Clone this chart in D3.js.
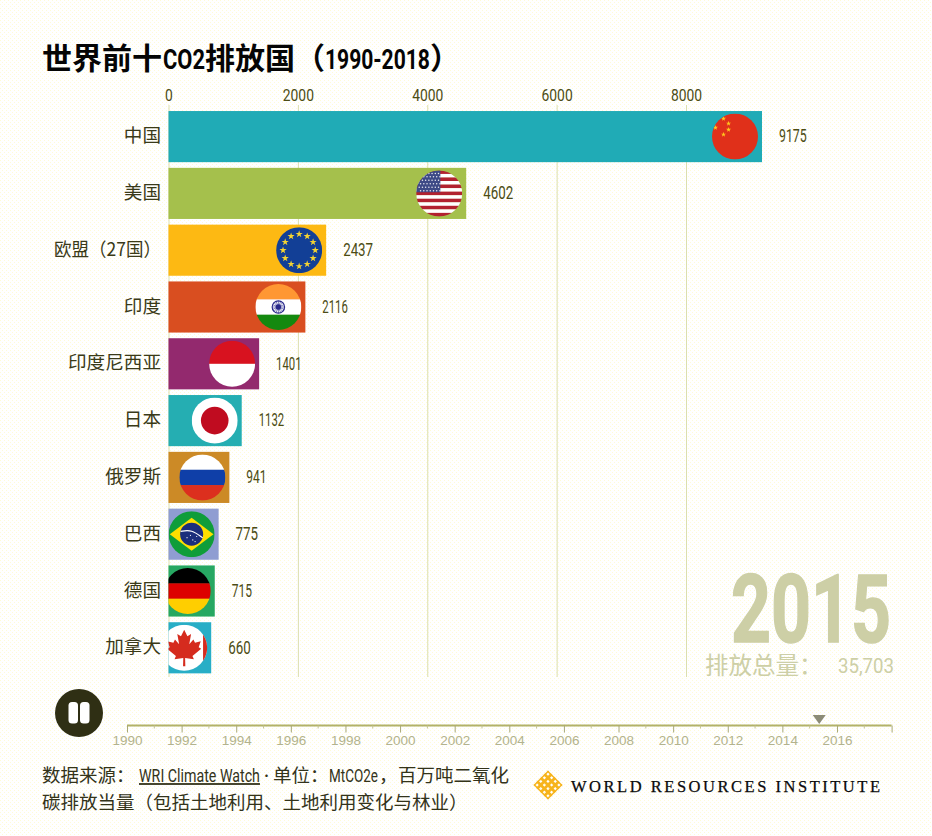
<!DOCTYPE html>
<html>
<head>
<meta charset="utf-8">
<script src="https://cdnjs.cloudflare.com/ajax/libs/d3/7.8.5/d3.min.js"></script>
<style>
  html, body { margin: 0; padding: 0; background: #fff; }
  svg { display: block; }
  text { font-family: "Noto Sans CJK SC", sans-serif; }
  text.num { font-family: Roboto, sans-serif; }
</style>
</head>
<body>
<svg id="chart" width="932" height="836"></svg>
<script>
// ---- data ----
const countries = ["中国", "美国", "欧盟（27国）", "印度", "印度尼西亚", "日本", "俄罗斯", "巴西", "德国", "加拿大"];
const emissions = [9175, 4602, 2437, 2116, 1401, 1132, 941, 775, 715, 660];
const barColors = ["#20abb6", "#a5c04c", "#fdb913", "#d94e20", "#93296e", "#25aeb2", "#cc8a26", "#8f9dd2", "#27a862", "#28aec6"];
const flagIds = ["cn", "us", "eu", "in", "id", "jp", "ru", "br", "de", "ca"];
const axisTicks = [0, 2000, 4000, 6000, 8000];
const timelineMajor = [1990, 1992, 1994, 1996, 1998, 2000, 2002, 2004, 2006, 2008, 2010, 2012, 2014, 2016];
const currentYear = 2015;
const currentPosition = 2015.35;
const totalLabel = "35,703";

const inkOlive = "#4c4c14";
const fadedKhaki = "#cdcfa6";

const svg = d3.select("#chart");
const defs = svg.append("defs");

// the faces in the original are condensed and none is installed, so squash the text
function squeezeTo(sel, width) {
  sel.each(function (d, i) {
    const el = d3.select(this);
    const target = typeof width === "function" ? width(d, i) : width;
    const sx = target / this.getComputedTextLength();
    const px = +el.attr("x") || 0;
    el.attr("transform", `translate(${px},0) scale(${sx},1) translate(${-px},0)`);
  });
}

// digits are about 7.5 wide at this size, the 1 is thinner
function numberWidth(v, unit = 7.5) {
  return String(v).split("").reduce((w, c) => w + (c === "1" ? unit * 0.7 : unit), 0);
}

// faint yellow dither the gif has on its background
const dither = defs.append("pattern")
  .attr("id", "dither").attr("width", 4).attr("height", 4)
  .attr("patternUnits", "userSpaceOnUse");
dither.append("rect").attr("width", 1).attr("height", 1).attr("fill", "#fffbd6");
dither.append("rect").attr("x", 2).attr("y", 2).attr("width", 1).attr("height", 1).attr("fill", "#fffbd6");
svg.append("rect").attr("width", 932).attr("height", 836).attr("fill", "url(#dither)");

const x = d3.scaleLinear().domain([0, 8000]).range([168.5, 686]);
const y = d3.scaleBand().domain(countries).range([108.2, 676.2]).paddingInner(0.1).paddingOuter(0.05);

// title, cut in pieces so the latin bits can be narrowed
const titleHan = svg.append("g").attr("font-size", 30).attr("font-weight", 700).attr("fill", "#050505");
titleHan.append("text").attr("x", 42).attr("y", 69).text("世界前十");
titleHan.append("text").attr("x", 205).attr("y", 69).text("排放国");
titleHan.append("text").attr("x", 295).attr("y", 69).text("（");
titleHan.append("text").attr("x", 430).attr("y", 69).text("）");
titleHan.append("text").attr("class", "num").attr("x", 163).attr("y", 69).attr("font-size", 28).text("CO2").call(squeezeTo, 42);
titleHan.append("text").attr("class", "num").attr("x", 325).attr("y", 69).attr("font-size", 28).text("1990-2018").call(squeezeTo, 105);

// top axis + grid
const axis = svg.append("g")
  .attr("transform", "translate(0,105)")
  .call(d3.axisTop(x).tickValues(axisTicks).tickSize(0).tickPadding(4).tickFormat(d3.format("d")));
axis.select(".domain").remove();
axis.selectAll("text").attr("class", "num").attr("font-size", 16).attr("fill", inkOlive)
  .call(squeezeTo, (d) => numberWidth(d, 7.8));
axis.selectAll(".tick").append("line")
  .attr("y1", 0).attr("y2", 572)
  .attr("stroke", "#dcdfae").attr("stroke-width", 1);

// bars
const rows = countries.map((name, i) => ({ name, value: emissions[i], color: barColors[i], flag: flagIds[i] }));
const flagR = y.bandwidth() * 0.45;

defs.append("clipPath").attr("id", "flag-circle").append("circle").attr("r", flagR);

const row = svg.selectAll("g.row").data(rows).join("g").attr("class", "row");

row.append("clipPath").attr("id", (d) => "bar-" + d.flag)
  .append("rect")
  .attr("x", x(0)).attr("y", (d) => y(d.name))
  .attr("width", (d) => x(d.value) - x(0)).attr("height", y.bandwidth());

row.append("rect")
  .attr("x", x(0)).attr("y", (d) => y(d.name))
  .attr("width", (d) => x(d.value) - x(0)).attr("height", y.bandwidth())
  .attr("fill", (d) => d.color);

row.append("text")
  .attr("x", 161).attr("y", (d) => y(d.name) + y.bandwidth() / 2)
  .attr("dy", "0.3em").attr("text-anchor", "end")
  .attr("font-size", 18.6).attr("fill", "#3a3a18")
  .text((d) => d.name)
  .filter((d) => d.flag === "eu").call(squeezeTo, 107);

row.append("text")
  .attr("class", "num")
  .attr("x", (d) => x(d.value) + 17).attr("y", (d) => y(d.name) + y.bandwidth() / 2)
  .attr("dy", "0.32em")
  .attr("font-size", 18).attr("fill", inkOlive)
  .text((d) => d.value)
  .call(squeezeTo, (d) => numberWidth(d.value));

// flags, clipped by the bar so the short ones get cut on the left
row.append("g").attr("clip-path", (d) => `url(#bar-${d.flag})`)
  .append("g")
  .attr("transform", (d) => `translate(${x(d.value) - 27},${y(d.name) + y.bandwidth() / 2})`)
  .attr("clip-path", "url(#flag-circle)")
  .each(function (d) { drawFlag(d3.select(this), d.flag, flagR); });

function stripes(g, colors, r) {
  const h = (2 * r) / colors.length;
  colors.forEach((c, i) => {
    g.append("rect").attr("x", -r).attr("y", -r + i * h).attr("width", 2 * r).attr("height", h + 0.3).attr("fill", c);
  });
}

function star(g, cx, cy, size, color) {
  g.append("path")
    .attr("d", d3.symbol(d3.symbolStar).size(size)())
    .attr("transform", `translate(${cx},${cy})`)
    .attr("fill", color);
}

function drawFlag(g, id, r) {
  if (id === "cn") {
    g.append("rect").attr("x", -r).attr("y", -r).attr("width", 2 * r).attr("height", 2 * r).attr("fill", "#e0301a");
    [[-0.5, -0.78], [-0.28, -0.57], [-0.28, -0.3], [-0.5, -0.09], [-0.85, -0.39]].forEach((p) => {
      star(g, p[0] * r, p[1] * r, 8, "#ffc81e");
    });
  } else if (id === "us") {
    stripes(g, d3.range(13).map((i) => (i % 2 ? "#ffffff" : "#b2222f")), r);
    g.append("rect").attr("x", -r).attr("y", -r).attr("width", r * 1.05).attr("height", r * 0.95).attr("fill", "#3e4a86");
    d3.range(6).forEach((row) => d3.range(7).forEach((col) => {
      g.append("circle")
        .attr("cx", -r + 3 + col * (r * 0.14) + (row % 2) * 1.4)
        .attr("cy", -r + 3 + row * (r * 0.15))
        .attr("r", 0.75).attr("fill", "#e8e8f0");
    }));
  } else if (id === "eu") {
    g.append("rect").attr("x", -r).attr("y", -r).attr("width", 2 * r).attr("height", 2 * r).attr("fill", "#123f96");
    d3.range(12).forEach((i) => {
      const a = (i / 12) * 2 * Math.PI;
      star(g, Math.sin(a) * r * 0.7, -Math.cos(a) * r * 0.7, 16, "#f5d432");
    });
  } else if (id === "in") {
    stripes(g, ["#ff9733", "#ffffff", "#14890f"], r);
    g.append("circle").attr("r", r * 0.27).attr("fill", "none").attr("stroke", "#2a2a8c").attr("stroke-width", 1.2);
    g.append("circle").attr("r", r * 0.12).attr("fill", "#2a2a8c");
    d3.range(8).forEach((i) => {
      const a = (i / 8) * Math.PI;
      g.append("line")
        .attr("x1", -Math.cos(a) * r * 0.27).attr("y1", -Math.sin(a) * r * 0.27)
        .attr("x2", Math.cos(a) * r * 0.27).attr("y2", Math.sin(a) * r * 0.27)
        .attr("stroke", "#2a2a8c").attr("stroke-width", 0.6);
    });
  } else if (id === "id") {
    stripes(g, ["#d8121f", "#ffffff"], r);
  } else if (id === "jp") {
    stripes(g, ["#ffffff"], r);
    g.append("circle").attr("r", r * 0.6).attr("fill", "#c00c20");
  } else if (id === "ru") {
    stripes(g, ["#ffffff", "#0f3fa8", "#dc2f1e"], r);
  } else if (id === "br") {
    g.append("rect").attr("x", -r).attr("y", -r).attr("width", 2 * r).attr("height", 2 * r).attr("fill", "#0f9d3a");
    g.append("path")
      .attr("d", d3.line()([[-r * 0.95, 0], [0, -r * 0.72], [r * 0.95, 0], [0, r * 0.72]]) + "Z")
      .attr("fill", "#fedf00");
    g.append("circle").attr("r", r * 0.5).attr("fill", "#1c2f7c");
    g.append("path")
      .attr("d", d3.line().curve(d3.curveBasis)([[-r * 0.48, -r * 0.12], [0, -r * 0.2], [r * 0.48, r * 0.16]]))
      .attr("fill", "none").attr("stroke", "#ffffff").attr("stroke-width", 1.2);
    [[-0.2, 0.15], [0.05, 0.25], [0.22, 0.1], [-0.05, 0.05], [0.15, 0.32]].forEach((p) => {
      g.append("circle").attr("cx", p[0] * r).attr("cy", p[1] * r).attr("r", 0.6).attr("fill", "#ffffff");
    });
  } else if (id === "de") {
    stripes(g, ["#000000", "#dd0000", "#ffce00"], r);
  } else if (id === "ca") {
    stripes(g, ["#ffffff"], r);
    g.append("rect").attr("x", r * 0.82).attr("y", -r).attr("width", r * 0.4).attr("height", 2 * r).attr("fill", "#d52b1e");
    // maple leaf, in units of the flag radius
    const leaf = [[0, -0.78], [0.14, -0.5], [0.3, -0.6], [0.22, -0.15], [0.4, -0.36], [0.47, -0.22], [0.72, -0.28],
      [0.63, -0.02], [0.74, 0.04], [0.36, 0.36], [0.42, 0.5], [0.04, 0.44], [0.05, 0.8], [-0.05, 0.8], [-0.04, 0.44],
      [-0.42, 0.5], [-0.36, 0.36], [-0.74, 0.04], [-0.63, -0.02], [-0.72, -0.28], [-0.47, -0.22], [-0.4, -0.36],
      [-0.22, -0.15], [-0.3, -0.6], [-0.14, -0.5]];
    g.append("path")
      .attr("d", d3.line()(leaf.map((p) => [p[0] * r, p[1] * r])) + "Z")
      .attr("fill", "#d52b1e");
  }
}

// big year + total
svg.append("text")
  .attr("class", "num")
  .attr("x", 731).attr("y", 642)
  .attr("font-size", 95).attr("font-weight", 700).attr("fill", fadedKhaki)
  .attr("stroke", fadedKhaki).attr("stroke-width", 1.5)
  .text(currentYear)
  .call(squeezeTo, 160);
svg.append("text")
  .attr("x", 705).attr("y", 674)
  .attr("font-size", 23.5).attr("fill", fadedKhaki)
  .text("排放总量：");
svg.append("text")
  .attr("class", "num")
  .attr("x", 838).attr("y", 673)
  .attr("font-size", 21).attr("fill", fadedKhaki)
  .text(totalLabel)
  .call(squeezeTo, 56);

// play button
const btn = svg.append("g").attr("transform", "translate(79,713)");
btn.append("circle").attr("r", 24).attr("fill", "#2f2f14");
btn.append("rect").attr("x", -10.5).attr("y", -11).attr("width", 9.5).attr("height", 21.5).attr("rx", 3.5).attr("fill", "#fff");
btn.append("rect").attr("x", 1).attr("y", -11).attr("width", 9.5).attr("height", 21.5).attr("rx", 3.5).attr("fill", "#fff");

// timeline
const t = d3.scaleLinear().domain([1990, 2018]).range([127, 891.6]);
const tlAxis = svg.append("g")
  .attr("transform", "translate(0,725.5)")
  .call(d3.axisBottom(t).tickValues(timelineMajor.concat([2018])).tickSize(7).tickPadding(3)
    .tickFormat((d) => (d === 2018 ? "" : d)));
tlAxis.select(".domain").attr("d", `M${t(1990)},0H${t(2018)}`).attr("stroke", "#b2b26a").attr("stroke-width", 2);
tlAxis.selectAll(".tick line").attr("stroke", "#a8a878");
tlAxis.selectAll("text").attr("font-size", 13.5).attr("fill", "#b3b38c")
  .style("font-family", '"Liberation Sans", sans-serif');
tlAxis.selectAll("line.minor")
  .data(d3.range(1991, 2018, 2))
  .join("line").attr("class", "minor")
  .attr("x1", (d) => t(d)).attr("x2", (d) => t(d))
  .attr("y1", 0).attr("y2", 3).attr("stroke", "#c4c494");

svg.append("path")
  .attr("d", d3.line()([[t(currentPosition) - 6.5, 715], [t(currentPosition) + 6.5, 715], [t(currentPosition), 724]]) + "Z")
  .attr("fill", "#8c8c78");

// source note
const note = svg.append("g").attr("font-size", 18.5).attr("fill", "#33331a");
note.append("text").attr("x", 42).attr("y", 782).text("数据来源：");
note.append("text").attr("class", "num").attr("x", 139).attr("y", 782).attr("font-size", 18)
  .attr("text-decoration", "underline").text("WRI Climate Watch").call(squeezeTo, 121);
note.append("text").attr("x", 266.5).attr("y", 782).attr("text-anchor", "middle").attr("font-size", 10).attr("font-weight", 700).attr("dy", "-0.2em").text("·");
note.append("text").attr("x", 273).attr("y", 782).text("单位：");
note.append("text").attr("class", "num").attr("x", 329).attr("y", 782).attr("font-size", 18).text("MtCO2e").call(squeezeTo, 49);
note.append("text").attr("x", 379).attr("y", 782).text("，");
note.append("text").attr("x", 398).attr("y", 782).text("百万吨二氧化");
note.append("text").attr("x", 42).attr("y", 809).text("碳排放当量（包括土地利用、土地利用变化与林业）");

// wri mark: woven diamond
const gold = "#f7b41c";
const logoR = 14.5;
defs.append("clipPath").attr("id", "logo-clip").append("path")
  .attr("d", d3.line()([[0, -logoR], [logoR, 0], [0, logoR], [-logoR, 0]]) + "Z");
const logo = svg.append("g").attr("transform", "translate(548,785)")
  .append("g").attr("clip-path", "url(#logo-clip)");
d3.range(-4, 5).forEach((k) => {
  const o = k * 3.6;
  logo.append("line").attr("x1", -20 + o).attr("y1", -20 - o).attr("x2", 20 + o).attr("y2", 20 - o)
    .attr("stroke", gold).attr("stroke-width", 2.8);
  logo.append("line").attr("x1", -20 + o).attr("y1", 20 + o).attr("x2", 20 + o).attr("y2", -20 + o)
    .attr("stroke", gold).attr("stroke-width", 2.8);
});

svg.append("text")
  .attr("x", 571).attr("y", 792)
  .attr("font-size", 16.5).attr("fill", "#0a0a0a").attr("stroke", "#0a0a0a").attr("stroke-width", 0.25)
  .attr("textLength", 309)
  .style("font-family", '"Liberation Serif", serif')
  .text("WORLD RESOURCES INSTITUTE");
</script>
</body>
</html>
